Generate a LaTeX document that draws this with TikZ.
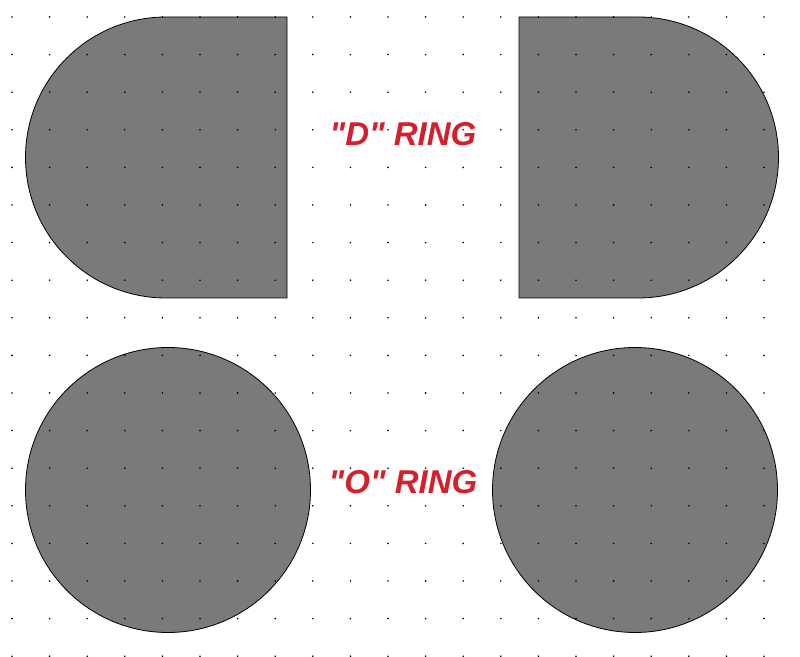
\documentclass[tikz,border=0pt]{standalone}
\usepackage{fontspec}
\setmainfont{Liberation Sans}
\definecolor{ringred}{RGB}{212,32,44}
\usetikzlibrary{positioning}

\begin{document}
\begin{tikzpicture}[x=1pt, y=1pt,
    pad/.style={fill=black!52, draw=black, line width=0.8pt},
    ringlabel/.style={text=ringred, font=\fontsize{33}{36}\selectfont\bfseries\itshape, inner sep=0pt}]
        \useasboundingbox (0,0) rectangle (800,656);

        % D rings
        \draw[pad] (287,639) -- (166,639) arc (90:270:140.5) -- (287,358) -- cycle;
        \draw[pad] (519,639) -- (638,639) arc (90:-90:140.5) -- (519,358) -- cycle;

        % O rings
        \draw[pad] (168,166) circle (142.5);
        \draw[pad] (635,166) circle (142.5);

        % grid
        \foreach \i in {0,...,20}
            \foreach \j in {0,...,17}
                \fill[black] ({12+37.6*\i},{656-17-37.6*\j}) circle (0.9);

        \node[ringlabel] (dlabel) at (403,522) {\textquotedbl D\textquotedbl{} RING};
        \node[ringlabel, below=348 of dlabel.center, anchor=center] (olabel) {\textquotedbl O\textquotedbl{} RING};
    \end{tikzpicture}
\end{document}
